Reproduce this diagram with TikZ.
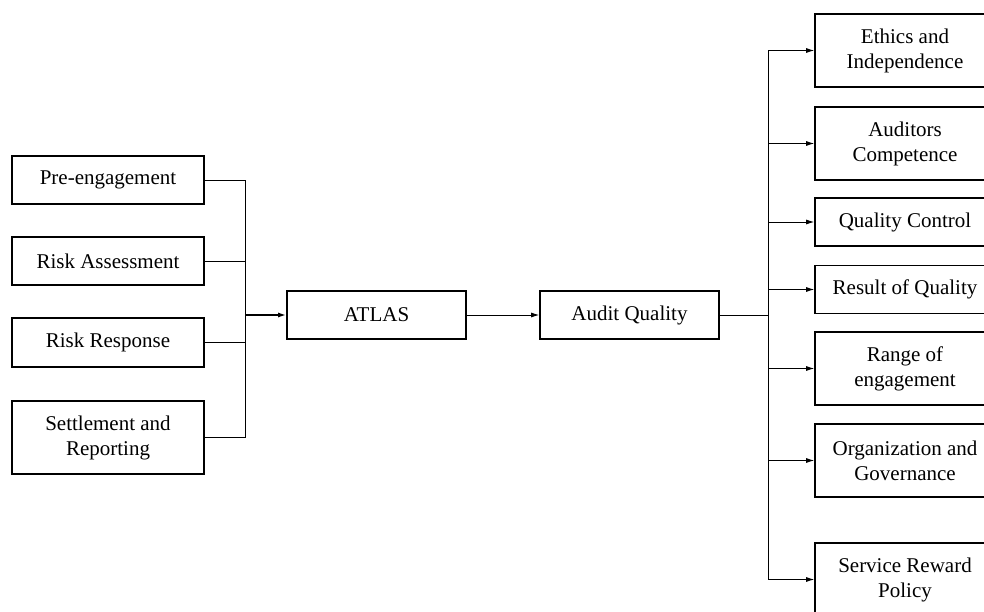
\documentclass[tikz,border=0pt]{standalone}
\usepackage{fontspec}
\setmainfont{Liberation Serif}
\usepackage{tikz}
\usetikzlibrary{arrows.meta}

\tikzset{
    box/.style={draw, line width=1.6pt, align=center, inner sep=0pt,
        font=\fontsize{21}{25}\selectfont, minimum height=48pt},
    leftbox/.style={box, minimum width=192pt},
    midbox/.style={box, minimum width=179pt},
    rightbox/.style={box, minimum width=180pt},
    tall/.style={minimum height=73pt},
    link/.style={line width=0.9pt},
    arrowlink/.style={link, -{Latex[length=8pt,width=5pt]}}
}

\begin{document}
\begin{tikzpicture}[x=1pt, y=-1pt]
    % Fix the frame of the picture
    \useasboundingbox (0,0) rectangle (984,612);
    \clip (0,0) rectangle (984,612);

            % Draw the stages on the left
            \node[leftbox] (preeng) at (108,180) {Pre-engagement};
            \node[leftbox] (riskass) at (108,261) {Risk Assessment};
            \node[leftbox, minimum height=49pt] (riskresp) at (108,342.5) {Risk Response};
            \node[leftbox, tall] (settle) at (108,437.5) {Settlement and\\Reporting};

            % Draw the two middle boxes
            \node[midbox] (atlas) at (376.5,315) {ATLAS};
            \node[midbox] (auditq) at (629.5,315) {Audit Quality};

            % Draw the factors on the right
            \node[rightbox, tall] (ethics) at (905,50.5) {Ethics and\\Independence};
            \node[rightbox, tall] (compet) at (905,143.5) {Auditors\\Competence};
            \node[rightbox] (qcontrol) at (905,222) {Quality Control};
            \node[rightbox] (qresult) at (905,289.5) {Result of Quality};
            \node[rightbox, tall] (range) at (905,368.5) {Range of\\engagement};
            \node[rightbox, tall] (organiz) at (905,460.5) {Organization and\\Governance};
            \node[rightbox, tall] (reward) at (905,579.5) {Service Reward\\Policy};

            % Draw the bus on the left and the arrow into ATLAS
            \coordinate (lbus) at (245,315);
            \foreach \n in {preeng, riskass, riskresp, settle} {
                \draw[link] (\n.east) -| (lbus);
            }
            \draw[arrowlink, line width=1.6pt] (lbus) -- (atlas.west);
            \draw[arrowlink] (atlas.east) -- (auditq.west);

            % Draw the bus on the right and the arrows into each factor
            \coordinate (rbus) at (768,315);
            \draw[link] (auditq.east) -- (rbus);
            \foreach \n in {ethics, compet, qcontrol, qresult, range, organiz, reward} {
                \draw[arrowlink] (rbus) |- (\n.west);
            }
\end{tikzpicture}
\end{document}
